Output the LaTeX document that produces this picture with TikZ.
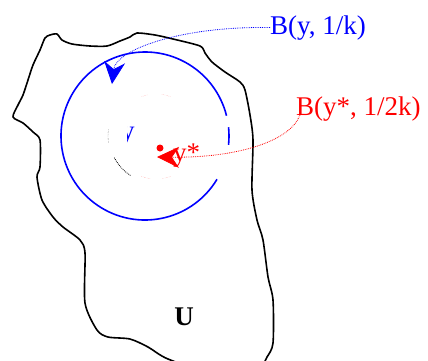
\documentclass[tikz,border=0pt]{standalone}
\usepackage{fontspec}
\setmainfont{Liberation Serif}
\usepackage{tikz}
\usetikzlibrary{arrows.meta, positioning}

\begin{document}
\begin{tikzpicture}[x=1pt, y=-1pt, >={Stealth[length=22pt, width=21pt, inset=7pt]},
    lbl/.style={font=\fontsize{27}{32}\selectfont, inner sep=0pt},
    ptr/.style={densely dotted, thick}]
      \useasboundingbox (0,0) rectangle (428,360);
      \clip (0,0) rectangle (428,360);
      \draw[line width=1.6pt, line join=round] plot[smooth cycle, tension=0.45] coordinates {
            (13,117) (18,105) (23,95) (28,80) (33,65) (40,50) (45,38) (50,35) (57,34) (62,40)
            (72,44) (90,46) (107,46) (120,41) (130,37) (137,33) (155,35) (173,39) (200,46)
            (205,53) (212,62) (225,72) (240,82) (245,90) (250,115) (253,140) (252,190)
            (257,220) (263,240) (268,277) (273,300) (273,343) (267,357) (258,368) (215,374)
            (168,359) (148,347) (130,339) (108,337) (97,330) (85,303) (85,253) (80,240)
            (63,227) (53,217) (42,200) (37,177) (40,167) (40,140) (33,132) (23,123)};

      \coordinate (c) at (145,136);
      \draw[blue, line width=1.6pt] (c) ++(31:84) arc[start angle=31, end angle=346, radius=84];
      \draw[blue, line width=1.6pt] (c) ++(-6:84) arc[start angle=-6, end angle=6, radius=84];

      \coordinate (cs) at (156,136);
      \draw[red!40, densely dotted] (cs) ++(250:42) arc[start angle=250, end angle=258, radius=42];
      \draw[red!40, densely dotted] (cs) ++(278:42) arc[start angle=278, end angle=290, radius=42];
      \draw[red!40, densely dotted] (cs) ++(70:43) arc[start angle=70, end angle=82, radius=43];
      \draw[red!40, densely dotted] (cs) ++(98:43) arc[start angle=98, end angle=110, radius=43];
      \draw[black, densely dotted, thick] (cs) ++(123:47) arc[start angle=123, end angle=153, radius=47];
      \draw[black!70, densely dotted] (cs) ++(172:48) arc[start angle=172, end angle=188, radius=48];

      \begin{scope}
        \clip (127,121) rectangle (134,144);
        \node[lbl, blue, anchor=base west] (yfrag) at (121,139) {y};
      \end{scope}

      \node[circle, fill=red, inner sep=0pt, minimum size=7pt] (ydot) at (160,148) {};
      \coordinate (ytip) at (157,157);
      \coordinate (btip) at (112,84);

      \node[lbl, blue, anchor=base west] (lblB) at (270,34) {B(y, 1/k)};
      \node[lbl, red, anchor=base west] (lblBs) at (296,115) {B(y*, 1/2k)};
      \node[lbl, font=\fontsize{27}{32}\selectfont\bfseries, anchor=base] (lblU) at (184,325) {U};

      \draw[ptr, blue, ->] (lblB.west) .. controls (180,26) and (116,50) .. (btip);
      \draw[ptr, red, ->] ([xshift=4pt]lblBs.base west) .. controls (290,142) and (235,158) .. (ytip);
      \node[lbl, red, anchor=base west] (ystar) at (173,161) {y*};
    \end{tikzpicture}
\end{document}
